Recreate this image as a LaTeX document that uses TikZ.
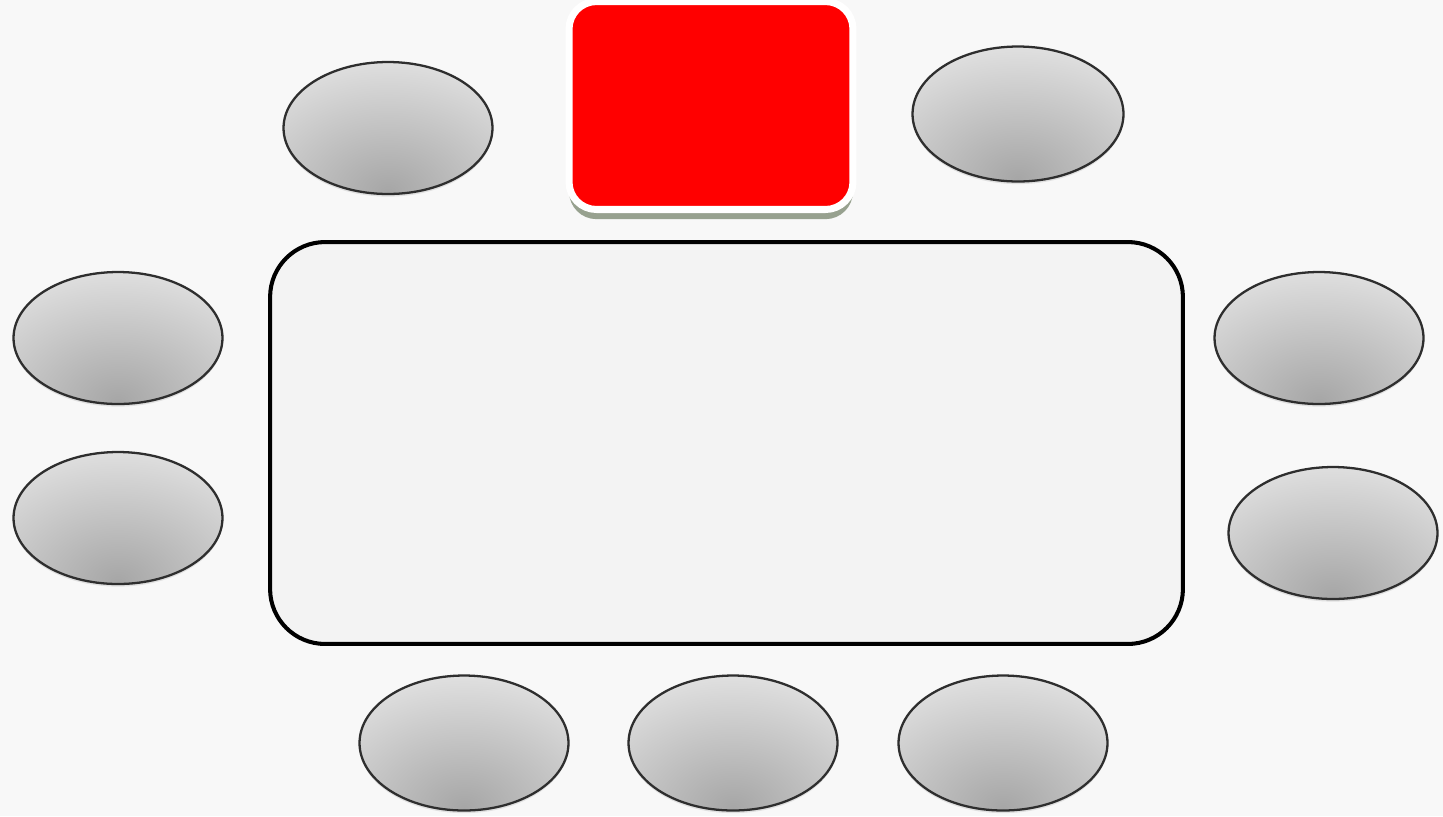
\documentclass[tikz,border=0pt]{standalone}
\usetikzlibrary{shapes.geometric,shadows}
\definecolor{bg}{HTML}{F8F8F8}
\definecolor{seatlight}{HTML}{E3E3E3}
\definecolor{seatdark}{HTML}{A6A6A6}
\definecolor{tablefill}{HTML}{F3F3F3}
\definecolor{shadowgreen}{HTML}{97A18F}
\begin{document}
\begin{tikzpicture}[x=0.02cm,y=-0.02cm,
  seat/.style={ellipse, draw=black!82, line width=1.3pt, inner sep=0pt,
    minimum width=4.18cm, minimum height=2.64cm,
    drop shadow={shadow xshift=0pt, shadow yshift=-1.5pt, opacity=0.2},
    path picture={
      \fill[seatlight] (path picture bounding box.south west) rectangle (path picture bounding box.north east);
      \shade[inner color=seatdark, outer color=seatlight]
        ([yshift=0.05cm]path picture bounding box.south) ellipse (3.8cm and 2.8cm);
    }},
  tablebox/.style={rectangle, rounded corners=1.1cm, draw=black, line width=2.3pt,
    fill=tablefill, minimum width=18.26cm, minimum height=8.04cm, inner sep=0pt},
  headbox/.style={rectangle, rounded corners=0.55cm, draw=white, line width=4pt,
    fill=red, minimum width=5.68cm, minimum height=4.16cm, inner sep=0pt,
    drop shadow={shadow xshift=0pt, shadow yshift=-5.5pt, fill=shadowgreen, opacity=1}}]
  % background / bounding box
  \fill[bg] (0,0) rectangle (1443,816);
  \useasboundingbox (0,0) rectangle (1443,816);

  \node[tablebox] (table) at (726.5,443) {};
  \node[headbox] (head) at (711,105.5) {};

  \node[seat] (s1) at (388,128) {};
  \node[seat, minimum width=4.22cm, minimum height=2.7cm] (s2) at (1018,114) {};
  \node[seat] (s3) at (118,338) {};
  \node[seat] (s4) at (118,518) {};
  \node[seat] (s5) at (1319,338) {};
  \node[seat] (s6) at (1333,533) {};
  \node[seat, minimum height=2.7cm] (s7) at (464,743) {};
  \node[seat, minimum height=2.7cm] (s8) at (733,743) {};
  \node[seat, minimum height=2.7cm] (s9) at (1003,743) {};
\end{tikzpicture}
\end{document}
